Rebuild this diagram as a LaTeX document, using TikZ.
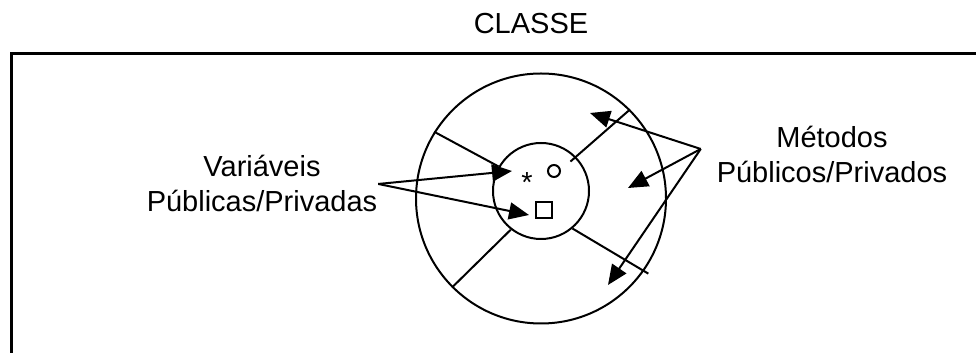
\documentclass[tikz,border=0pt]{standalone}
\usepackage{fontspec}
\setmainfont{Liberation Sans}
\usetikzlibrary{arrows.meta,calc}

\begin{document}
\begin{tikzpicture}[x=0.5pt,y=0.5pt,line width=1pt,
  every node/.style={font=\fontsize{14.5}{17.5}\selectfont,inner sep=0pt},
  lbl/.style={align=center,anchor=base},
  ptr/.style={-{Triangle[length=10pt,width=8.5pt]}}]
  \clip (0,0) rectangle (976,353);
  \draw[line width=1.5pt] (11,299.5) rectangle (990,-20);
  \node[anchor=base] (title) at (531,319) {CLASSE};
  \node[circle,draw,minimum size=125pt] (outer) at (541,154.5) {};
  \node[circle,draw,minimum size=48pt] (inner) at (541,162) {};
  \node[anchor=base] (star) at (527,160) {*};
  \node[circle,draw,minimum size=6pt] (ring) at (554,182) {};
  \node[draw,minimum size=8pt] (sq) at (544,142.5) {};
  \node[lbl] (vars) at (262,141) {Variáveis\\Públicas/Privadas};
  \node[lbl] (meths) at (832,170) {Métodos\\Públicos/Privados};
  \coordinate (meths-out) at ($(meths.west)+(-15,6)$);
  \coordinate (v1) at (512,182);
  \coordinate (v2) at (529,138);
  \coordinate (m1) at (590,240);
  \coordinate (m2) at (628,165);
  \coordinate (m3) at (608,68);
  \draw (outer.148) -- (inner.150);
  \draw (outer.45) -- ($(inner.center)!0.85!(inner.45)$);
  \draw (outer.225) -- (inner.232);
  \draw (inner.-50) -- ($(outer.center)!1.04!(outer.-35)$);
  \draw[ptr] (vars.east) -- (v1);
  \draw[ptr] (vars.east) -- (v2);
  \draw[ptr] (meths-out) -- (m1);
  \draw[ptr] (meths-out) -- (m2);
  \draw[ptr] (meths-out) -- (m3);
\end{tikzpicture}
\end{document}
